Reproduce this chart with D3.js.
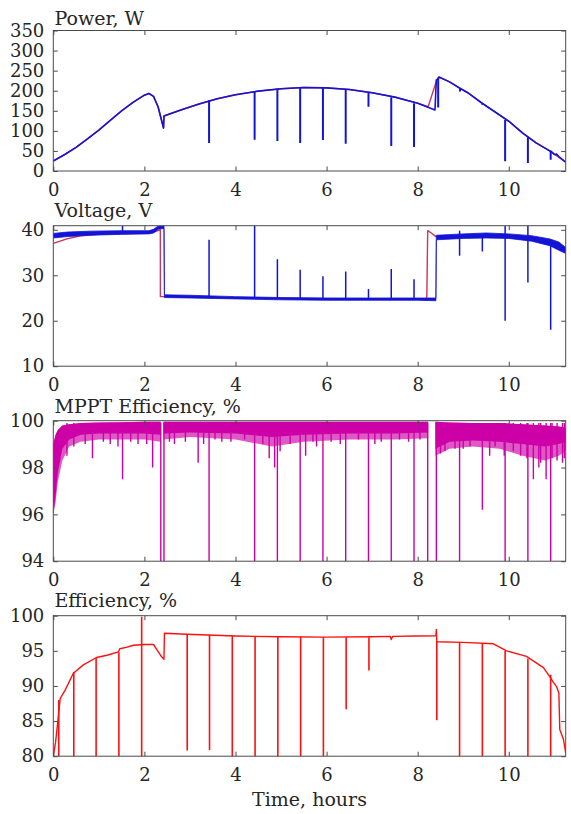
<!DOCTYPE html>
<html>
<head>
<meta charset="utf-8">
<script src="https://cdn.jsdelivr.net/npm/d3@7"></script>
<style>
    body { margin: 0; background: #fff; }
    svg text { font-family: 'DejaVu Serif', serif; fill: #262626; }
</style>
</head>
<body>
<svg id="chart" width="571" height="814"></svg>
<script>
// ---- shared x axis
const hourTicks = [0, 2, 4, 6, 8, 10]

// ---- power, W
const powerTicks = [0, 50, 100, 150, 200, 250, 300, 350]
const powerT = [0, 0.25, 0.5, 0.75, 1.0, 1.25, 1.5, 1.75, 2.0, 2.1, 2.2, 2.3, 2.42, 2.43, 2.8, 3.2, 3.6, 4.0, 4.5, 5.0, 5.5, 6.0, 6.5, 7.0, 7.5, 8.0, 8.38, 8.41, 8.44, 8.47, 8.7, 8.9, 9.1, 9.4, 9.7, 10.0, 10.3, 10.6, 10.9, 10.95, 11.0, 11.05, 11.1, 11.25]
const powerW = [25, 41, 59, 80, 102, 126, 150, 171, 189, 193, 186, 160, 107, 137, 152, 167, 180, 190, 199, 205, 208, 207, 203, 195, 184, 169, 152, 227, 229, 234, 222, 208, 195, 170, 147, 124, 95, 70, 50, 47, 41, 42, 36, 22]
const powerRefT = [0, 0.25, 0.5, 0.75, 1.0, 1.25, 1.5, 1.75, 2.0, 2.1, 2.2, 2.3, 2.42, 2.43, 2.8, 3.2, 3.6, 4.0, 4.5, 5.0, 5.5, 6.0, 6.5, 7.0, 7.5, 8.0, 8.23, 8.42, 8.47, 8.7, 8.9, 9.1, 9.4, 9.7, 10.0, 10.3, 10.6, 10.9, 11.25]
const powerRefW = [25, 41, 59, 80, 102, 126, 150, 171, 189, 193, 186, 160, 107, 137, 152, 167, 180, 190, 199, 205, 208, 207, 203, 195, 184, 169, 160, 227, 234, 222, 208, 195, 170, 147, 124, 95, 70, 50, 22]
const powerSpikeT = [3.42, 4.42, 4.92, 5.42, 5.92, 6.42, 6.92, 7.42, 7.92, 8.45, 8.93, 9.42, 9.92, 10.42, 10.92]
const powerSpikeTop = [176, 199, 205, 208, 207, 203, 195, 184, 169, 232, 206, 168, 127, 84, 51]
const powerSpikeLow = [70, 78, 75, 70, 77, 68, 160, 62, 60, 158, 198, 165, 24, 20, 28]

// ---- voltage, V
const voltTicks = [10, 20, 30, 40]
const voltT = [0, 0.3, 0.8, 1.5, 2.1, 2.2, 2.3, 2.43, 2.44, 3.0, 4.0, 5.0, 6.0, 7.0, 8.0, 8.4, 8.41, 9.0, 9.5, 10.0, 10.5, 10.9, 11.1, 11.25]
const voltLo = [38.2, 38.5, 38.8, 39.0, 39.1, 39.3, 40.1, 40.3, 25.1, 25.0, 24.8, 24.6, 24.5, 24.5, 24.5, 24.4, 37.8, 38.1, 38.2, 38.1, 37.5, 36.5, 35.5, 34.8]
const voltHi = [39.2, 39.5, 39.7, 39.8, 39.8, 40.1, 40.8, 40.9, 25.7, 25.6, 25.3, 25.1, 25.0, 25.0, 25.0, 25.0, 38.8, 39.1, 39.3, 39.1, 38.7, 38.0, 37.3, 36.1]
const voltRefT = [0, 0.3, 0.6, 1.0, 2.0, 2.2, 2.35, 2.351, 2.44, 3.0, 5.0, 8.2, 8.22, 8.3, 8.4, 9.0, 10.0, 10.5, 11.25]
const voltRefV = [37.0, 38.0, 38.7, 39.0, 39.3, 39.5, 40.0, 25.3, 25.3, 25.2, 24.9, 24.8, 39.8, 39.3, 38.5, 38.6, 38.5, 38.0, 35.6]
const voltSpikeT = [1.52, 3.42, 4.42, 4.92, 5.42, 5.92, 6.42, 6.92, 7.42, 7.92, 8.92, 9.42, 9.92, 10.42, 10.92]
const voltSpikeLow = [39.5, 25, 25, 25, 25, 25, 25, 25, 25, 25, 34.3, 35.2, 20.0, 28.4, 18.0]
const voltSpikeTop = [40.9, 37.8, 40.9, 33.5, 31.2, 29.8, 30.8, 27.0, 31.4, 29.1, 39.8, 38.6, 40.9, 40.9, 37.5]

// ---- MPPT efficiency, %
const mpptTicks = [94, 96, 98, 100]
const mpptT = [0, 0.05, 0.1, 0.2, 0.35, 0.6, 1.0, 1.5, 2.0, 2.36, 2.37, 2.42, 3.0, 4.0, 4.8, 5.5, 6.5, 7.5, 8.23, 8.24, 8.39, 8.7, 9.2, 9.8, 10.3, 10.8, 11.1, 11.25]
const mpptHi = [99.0, 99.4, 99.6, 99.8, 99.85, 99.9, 99.92, 99.93, 99.95, 99.95, null, 99.95, 99.95, 99.95, 99.95, 99.95, 99.95, 99.95, 99.95, null, 99.95, 99.92, 99.9, 99.9, 99.85, 99.8, 99.75, 99.7]
const mpptDense = [96.0, 96.8, 97.8, 98.8, 99.2, 99.4, 99.45, 99.45, 99.45, 99.4, null, 99.45, 99.5, 99.45, 99.3, 99.4, 99.45, 99.45, 99.5, null, 98.8, 99.1, 99.15, 99.1, 99.0, 98.9, 99.0, 99.1]
const mpptFuzz = [96.0, 96.5, 97.4, 98.3, 98.9, 99.1, 99.2, 99.2, 99.2, 99.1, null, 99.2, 99.3, 99.2, 98.9, 99.1, 99.2, 99.2, 99.25, null, 98.5, 98.8, 98.9, 98.8, 98.5, 98.3, 98.5, 98.7]
const mpptSpikeTop = 99.9
const mpptSpikeT = [2.36, 2.43, 3.42, 4.42, 4.92, 5.42, 5.92, 6.42, 6.92, 7.42, 7.92, 8.22, 8.41, 8.92, 9.92, 10.42, 10.92,
    0.86, 1.52, 1.42, 2.18, 3.18, 1.86, 2.66, 3.7, 4.74, 4.86, 4.98, 5.54, 5.78, 7.06, 8.5, 8.82, 9.42, 9.58, 9.9, 10.26, 10.54, 10.66, 10.82, 11.06, 11.18,
    0.3, 0.45, 0.7, 1.1, 1.25, 1.7, 2.05, 2.55, 2.9, 3.3, 3.55, 3.9, 4.2, 4.6, 5.2, 5.7, 6.1, 6.3, 6.7, 7.2, 7.6, 7.8, 8.05, 8.6, 9.0, 9.15, 9.7, 10.1, 10.4, 10.7, 10.95, 11.22]
const mpptSpikeLow = [94, 94, 94, 94, 94, 94, 94, 94, 94, 94, 94, 94, 94, 94, 94, 94, 94,
    98.4, 97.5, 98.9, 98.0, 98.2, 99.0, 99.0, 99.1, 98.4, 98.0, 98.7, 98.5, 98.9, 99.0, 98.6, 98.8, 96.2, 98.5, 98.5, 98.5, 97.5, 98.0, 97.5, 98.3, 98.2,
    98.5, 98.9, 99.0, 99.1, 99.0, 99.1, 99.0, 99.1, 99.1, 99.0, 99.2, 99.1, 99.2, 99.0, 99.0, 99.1, 99.1, 99.0, 99.2, 99.1, 99.2, 99.1, 99.2, 98.7, 98.8, 98.9, 98.9, 98.7, 98.4, 98.2, 98.4, 98.4]

// ---- efficiency, %
const effTicks = [80, 85, 90, 95, 100]
const effT = [0, 0.05, 0.1, 0.15, 0.26, 0.44, 0.66, 0.95, 1.2, 1.43, 1.46, 1.6, 1.76, 2.0, 2.2, 2.28, 2.36, 2.43, 2.44, 2.93, 4.0, 5.0, 6.0, 7.0, 7.4, 7.42, 7.45, 8.0, 8.4, 8.41, 8.42, 9.0, 9.66, 9.81, 9.95, 10.39, 10.76, 10.87, 10.98, 11.05, 11.1, 11.12, 11.2, 11.25]
const effPct = [80, 82, 85, 88.2, 89.4, 91.8, 93.0, 94.05, 94.4, 94.86, 95.3, 95.5, 95.8, 95.9, 95.9, 95.1, 94.3, 93.8, 97.5, 97.35, 97.1, 97.0, 96.95, 97.0, 97.05, 96.6, 97.05, 97.1, 97.15, 98.05, 96.3, 96.2, 96.0, 95.5, 95.0, 94.2, 92.6, 91.6, 90.5, 89.9, 89.0, 83.8, 82.4, 80.5]
const effSpikeT = [0.12, 0.45, 0.94, 1.44, 1.94, 2.94, 3.43, 3.93, 4.43, 4.93, 5.43, 5.93, 6.43, 6.93, 8.42, 8.92, 9.42, 9.92, 10.42, 10.92]
const effSpikeTop = [88, 92, 94, 94.8, 99.86, 97.35, 97.3, 97.1, 97.05, 97.0, 97.0, 96.95, 96.95, 96.95, 96.3, 96.2, 96.1, 95.0, 93.9, 91.6]
const effSpikeLow = [80, 80, 80, 80, 80, 80.8, 80.9, 80, 80, 80, 80, 80, 86.7, 92.2, 85.1, 80, 80, 80, 80, 80]

// ---- layout
const left = 53.3, right = 565.7, panelH = 140.5
const blue = '#1414d6', wine = '#c8365a', magenta = '#cc00a6', red = '#ff1010'
const svg = d3.select('#chart')
const x = d3.scaleLinear().domain([0, 11.25]).range([left, right])

function makePanel(opts) {
    const { top, domain, ticks, title, titleY, id } = opts
    const y = d3.scaleLinear().domain(domain).range([top + panelH, top])
    const g = svg.append('g')

    svg.append('clipPath').attr('id', id)
        .append('rect')
        .attr('x', left).attr('y', top)
        .attr('width', right - left).attr('height', panelH)

    const plot = g.append('g').attr('clip-path', `url(#${ id })`)

    g.append('text')
        .attr('x', 54.5).attr('y', titleY)
        .attr('font-size', 19)
        .text(title)

    const drawAxes = () => {
        const axes = g.append('g')
        const fmt = d3.format('d')
        const style = sel => {
            sel.select('.domain').remove()
            sel.attr('font-family', "'DejaVu Serif', serif").attr('font-size', 18)
            sel.selectAll('line').attr('stroke', '#4a4a4a')
            sel.selectAll('text').attr('fill', '#262626')
        }
        axes.append('g')
            .attr('transform', `translate(0,${ top + panelH })`)
            .call(d3.axisBottom(x).tickValues(hourTicks).tickFormat(fmt).tickSizeInner(-4.5).tickSizeOuter(0).tickPadding(12))
            .call(style)
        axes.append('g')
            .attr('transform', `translate(0,${ top })`)
            .call(d3.axisTop(x).tickValues(hourTicks).tickSizeInner(-4.5).tickSizeOuter(0).tickFormat(''))
            .call(style)
        axes.append('g')
            .attr('transform', `translate(${ left },0)`)
            .call(d3.axisLeft(y).tickValues(ticks).tickFormat(fmt).tickSizeInner(-4.5).tickSizeOuter(0).tickPadding(9))
            .call(style)
        axes.append('g')
            .attr('transform', `translate(${ right },0)`)
            .call(d3.axisRight(y).tickValues(ticks).tickSizeInner(-4.5).tickSizeOuter(0).tickFormat(''))
            .call(style)
        axes.append('rect')
            .attr('x', left).attr('y', top)
            .attr('width', right - left).attr('height', panelH)
            .attr('fill', 'none').attr('stroke', '#4a4a4a').attr('stroke-width', 1)
    }
    return { y, plot, drawAxes }
}

function drawSpikes(plot, y, ts, tops, lows, color, width) {
    plot.append('g').selectAll('line')
        .data(d3.range(ts.length))
        .enter()
        .append('line')
        .attr('x1', i => x(ts[i])).attr('x2', i => x(ts[i]))
        .attr('y1', i => y(Array.isArray(tops) ? tops[i] : tops))
        .attr('y2', i => y(lows[i]))
        .attr('stroke', color)
        .attr('stroke-width', width)
}

function drawLine(plot, y, ts, vs, color, width) {
    const line = d3.line().x(d => x(d[0])).y(d => y(d[1]))
    plot.append('path')
        .attr('d', line(d3.zip(ts, vs)))
        .attr('fill', 'none')
        .attr('stroke', color)
        .attr('stroke-width', width)
        .attr('stroke-linejoin', 'round')
}

// ---- panel 1: power
const p1 = makePanel({ top: 30.5, domain: [0, 350], ticks: powerTicks, title: 'Power, W', titleY: 25, id: 'clip-power' })
drawLine(p1.plot, p1.y, powerRefT, powerRefW, wine, 1.4)
drawLine(p1.plot, p1.y, powerT, powerW, blue, 1.6)
drawSpikes(p1.plot, p1.y, powerSpikeT, powerSpikeTop, powerSpikeLow, blue, 2)
p1.drawAxes()

// ---- panel 2: voltage
const p2 = makePanel({ top: 225.7, domain: [10, 40.9], ticks: voltTicks, title: 'Voltage, V', titleY: 217.3, id: 'clip-volt' })
drawLine(p2.plot, p2.y, voltRefT, voltRefV, wine, 1.4)
const voltBand = d3.area().x(d => x(d[0])).y0(d => p2.y(d[1])).y1(d => p2.y(d[2]))
p2.plot.append('path')
    .attr('d', voltBand(d3.zip(voltT, voltLo, voltHi)))
    .attr('fill', blue).attr('stroke', blue).attr('stroke-width', 0.8)
drawSpikes(p2.plot, p2.y, voltSpikeT, voltSpikeTop, voltSpikeLow, blue, 1.5)
p2.drawAxes()

// ---- panel 3: MPPT efficiency
const p3 = makePanel({ top: 420.7, domain: [94, 100], ticks: mpptTicks, title: 'MPPT Efficiency, %', titleY: 413.3, id: 'clip-mppt' })
const mpptRows = d3.zip(mpptT, mpptHi, mpptDense, mpptFuzz)
const mpptArea = (lo) => d3.area()
    .defined(d => d[1] != null)
    .x(d => x(d[0]))
    .y0(d => p3.y(d[lo]))
    .y1(d => p3.y(d[1]))
p3.plot.append('path')
    .attr('d', mpptArea(3)(mpptRows))
    .attr('fill', magenta).attr('fill-opacity', 0.65)
p3.plot.append('path')
    .attr('d', mpptArea(2)(mpptRows))
    .attr('fill', magenta)
drawSpikes(p3.plot, p3.y, mpptSpikeT, mpptSpikeTop, mpptSpikeLow, magenta, 1.4)
p3.drawAxes()

// ---- panel 4: efficiency
const p4 = makePanel({ top: 615.7, domain: [80, 100], ticks: effTicks, title: 'Efficiency, %', titleY: 606.7, id: 'clip-eff' })
drawLine(p4.plot, p4.y, effT, effPct, red, 1.4)
drawSpikes(p4.plot, p4.y, effSpikeT, effSpikeTop, effSpikeLow, red, 1.6)
p4.drawAxes()

svg.append('text')
    .attr('x', (left + right) / 2).attr('y', 806)
    .attr('text-anchor', 'middle')
    .attr('font-size', 19)
    .text('Time, hours')
</script>
</body>
</html>
